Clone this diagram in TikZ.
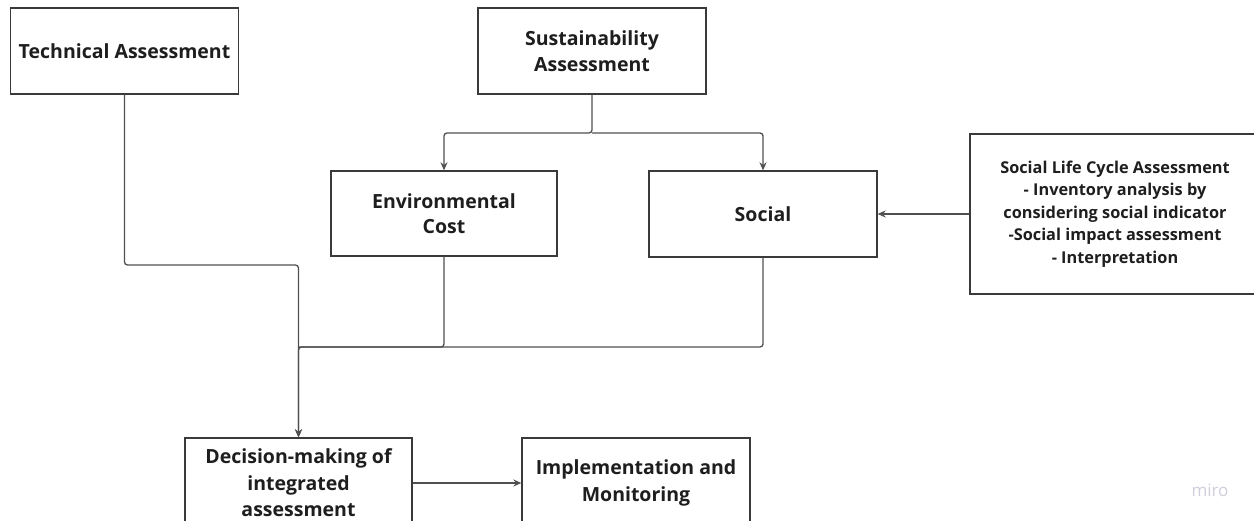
\documentclass[tikz,border=0pt]{standalone}
\usepackage{fontspec}
\setmainfont{Open Sans}
\usetikzlibrary{arrows.meta}
\definecolor{boxline}{HTML}{3A3A3A}
\definecolor{connline}{HTML}{505050}
\definecolor{txt}{HTML}{1E1E1E}
\definecolor{wm}{HTML}{CFCFDC}
\tikzset{
  stepbox/.style={draw=boxline, line width=1.3pt, fill=white, minimum width=228pt,
    minimum height=86pt, align=center, text=txt, inner sep=4pt,
    font=\fontsize{19.5}{25.5}\selectfont\bfseries},
  conn/.style={draw=connline, line width=1.3pt, rounded corners=3pt},
  tip/.style={-{Stealth[length=8pt,width=7pt]}}
}
\begin{document}
\begin{tikzpicture}[x=1pt,y=-1pt]
\clip (0,0) rectangle (1254,521);
\fill[white] (0,0) rectangle (1254,521);

% boxes
\node[stepbox] (tech) at (124.5,51) {Technical Assessment};
\node[stepbox] (sust) at (592,51) {Sustainability\\Assessment};
\node[stepbox, minimum width=226pt, minimum height=85pt] (env) at (444,213.5) {Environmental\\Cost};
\node[stepbox] (social) at (763,214) {Social};
\node[stepbox, minimum width=290pt, minimum height=160pt,
      font=\fontsize{16.3}{22.5}\selectfont\bfseries] (slca) at (1115,214)
  {Social Life Cycle Assessment\\- Inventory analysis by\\considering social indicator\\-Social impact assessment\\- Interpretation};
\node[stepbox, minimum width=227pt, minimum height=90pt,
      font=\fontsize{19.5}{26.5}\selectfont\bfseries] (dec) at (298.5,483) {Decision-making of\\integrated\\assessment};
\node[stepbox, minimum height=90pt,
      font=\fontsize{19.5}{27.5}\selectfont\bfseries] (impl) at (636,483) {Implementation and\\Monitoring};

% junction points
\coordinate (split) at (592,133);
\coordinate (tbend) at (124.5,265);
\coordinate (merge) at (298.5,347);

% connectors
\draw[conn, tip] (sust.south) -- (split) -| (env.north);
\draw[conn, tip] (split) -| (social.north);
\draw[conn, tip] (tech.south) -- (tbend) -| (dec.north);
\draw[conn] (env.south) |- (merge);
\draw[conn, tip] (social.south) |- (merge) -- (dec.north);
\draw[conn, tip] (slca.west) -- (social.east);
\draw[conn, tip] (dec.east) -- (impl.west);

% watermark
\node[text=wm, font=\fontsize{17}{20}\selectfont] (miro) at (1210,490) {miro};
\end{tikzpicture}
\end{document}
